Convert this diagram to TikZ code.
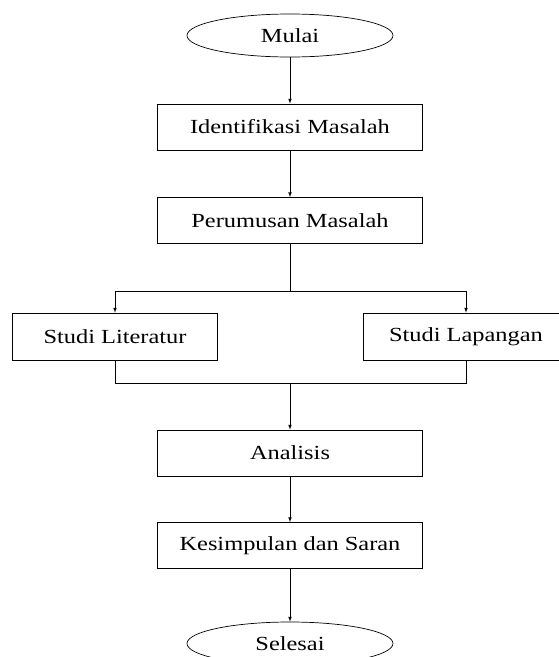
\documentclass[tikz,border=0pt]{standalone}
\usepackage{fontspec}
\setmainfont{Liberation Serif}[FakeStretch=1.22]
\usetikzlibrary{shapes.geometric}

\begin{document}
\begin{tikzpicture}[x=1pt,y=-1pt,
		font=\fontsize{20}{24}\selectfont,
		line width=0.7pt,
		terminal/.style={ellipse,draw,minimum width=206pt,minimum height=43pt,inner sep=0pt},
		proses/.style={rectangle,draw,minimum width=265pt,minimum height=46pt,inner sep=0pt},
		studi/.style={rectangle,draw,minimum width=205pt,minimum height=47pt,inner sep=0pt}]
		
		\useasboundingbox (0,0) rectangle (558,657);
		
		\node (mulai) at (290,35.5) [terminal] {Mulai};
		\node (ident) [below of=mulai, node distance=91.5pt, proses] {Identifikasi Masalah};
		\node (rumus) [below of=ident, node distance=93.5pt, proses] {Perumusan Masalah};
		\node (lit) at (115,336.5) [studi] {Studi Literatur};
		\node (lap) at (466,336.5) [studi] {Studi Lapangan};
		\node (anal) at (290,453) [proses] {Analisis};
		\node (simp) [below of=anal, node distance=92.5pt, proses] {Kesimpulan dan Saran};
		\node (sel) [below of=simp, node distance=98pt, terminal] {Selesai};
		
		\coordinate (cabang) at (290,291);
		\coordinate (gabung) at (290,383);
		
		\draw[-latex] (mulai) -- (ident);
		\draw[-latex] (ident) -- (rumus);
		\draw[-] (rumus) -- (cabang);
		\draw[-latex] (cabang) -| (lit);
		\draw[-latex] (cabang) -| (lap);
		\draw[-] (lit) |- (gabung);
		\draw[-] (lap) |- (gabung);
		\draw[-latex] (gabung) -- (anal);
		\draw[-latex] (anal) -- (simp);
		\draw[-latex] (simp) -- (sel);
		
	\end{tikzpicture}
\end{document}
